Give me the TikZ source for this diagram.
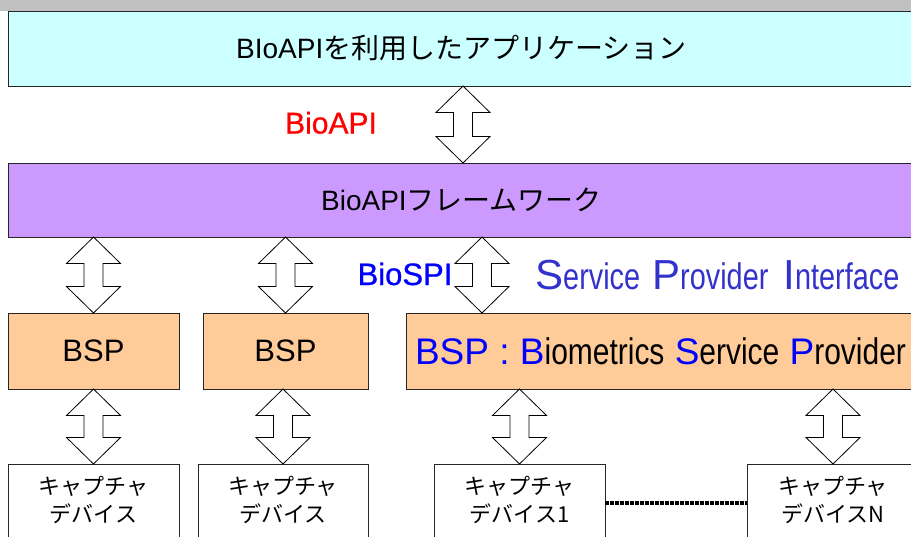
\documentclass[tikz,border=0pt]{standalone}
\usepackage{fontspec}
\usepackage{graphicx}
\setmainfont{Liberation Sans}
\newfontfamily\jp{Noto Sans CJK JP}
\newfontfamily\heavy{Liberation Sans}[FakeBold=0.8]
\usetikzlibrary{calc}

\definecolor{appcyan}{HTML}{CCFFFF}
\definecolor{fwpurple}{HTML}{CC99FF}
\definecolor{bsporange}{HTML}{FFCC99}
\definecolor{spiblue}{HTML}{3333CC}
\definecolor{bandgray}{HTML}{C0C0C0}

% font size in points, also used as line height
\newcommand{\fs}[1]{\fontsize{#1}{#1}\selectfont}
% narrowed lower-case runs
\newcommand{\narrow}[2]{\scalebox{#1}[1]{#2}}

% vertical two-headed block arrow between two points (top, bottom)
\newcommand{\dblarrow}[2]{%
  \draw[blockarrow] let \p1=#1, \p2=#2 in
    (\x1,\y1) -- (\x1+27pt,\y1-26.5pt) -- (\x1+9.5pt,\y1-26.5pt)
    -- (\x1+9.5pt,\y2+26.5pt) -- (\x1+27pt,\y2+26.5pt) -- (\x1,\y2)
    -- (\x1-27pt,\y2+26.5pt) -- (\x1-9.5pt,\y2+26.5pt)
    -- (\x1-9.5pt,\y1-26.5pt) -- (\x1-27pt,\y1-26.5pt) -- cycle;}

\begin{document}
\begin{tikzpicture}[x=1pt,y=-1pt,
  layer/.style={draw=black!85, line width=1pt, inner sep=0pt, outer sep=0pt,
                anchor=north west},
  device/.style={layer, fill=white, minimum height=96pt},
  blockarrow/.style={draw=black, line width=0.8pt, fill=white, line join=miter},
  devlabel/.style={anchor=north, inner sep=0pt, align=center,
                   font=\jp\fontsize{22}{28}\selectfont},
  dotline/.style={line width=3.5pt, dash pattern=on 3.5pt off 1.5pt}]

\useasboundingbox (0,0) rectangle (911,536);
\clip (0,0) rectangle (911,536);

% strip along the top edge
\fill[bandgray] (0,0) rectangle (911,10.5);

% application layer
\node[layer, fill=appcyan, minimum width=907pt, minimum height=75pt]
  (app) at (8,11) {\fs{28}BIoAPI{\jp を利用したアプリケーション}};

% framework layer
\node[layer, fill=fwpurple, minimum width=907pt, minimum height=74pt]
  (fw) at (8,163) {\fs{28}BioAPI{\jp フレームワーク}};

% service providers
\node[layer, fill=bsporange, minimum width=171pt, minimum height=76pt]
  (bsp1) at (8,313) {\fs{31}BSP};
\node[layer, fill=bsporange, minimum width=165pt, minimum height=76pt]
  (bsp2) at (203,313) {\fs{31}BSP};
\node[layer, fill=bsporange, minimum width=509pt, minimum height=76pt]
  (bsp3) at (406,313) {\fs{37}{\color{blue}BSP : B}\narrow{0.81}{iometrics}
    {\color{blue}S}\narrow{0.81}{ervice} {\color{blue}P}\narrow{0.81}{rovider}};

% capture devices
\node[device, minimum width=171pt] (dev1) at (8,464) {};
\node[device, minimum width=170pt] (dev2) at (198,464) {};
\node[device, minimum width=171pt] (dev3) at (434,464) {};
\node[device, minimum width=172pt] (dev4) at (747,464) {};

\node[devlabel] (dl1) at ([yshift=-12pt]dev1.north) {キャプチャ\\デバイス};
\node[devlabel] (dl2) at ([yshift=-12pt]dev2.north) {キャプチャ\\デバイス};
\node[devlabel] (dl3) at ([yshift=-12pt]dev3.north) {キャプチャ\\デバイス1};
\node[devlabel] (dl4) at ([yshift=-12pt]dev4.north) {キャプチャ\\デバイスN};

% interface labels
\node[anchor=base, inner sep=0pt, text=red] (apilbl) at (331,133.5)
  {\heavy\fs{30}BioAPI};
\node[anchor=base, inner sep=0pt, text=blue] (spilbl) at (405,285)
  {\heavy\fs{31}BioSPI};
\node[anchor=base west, inner sep=0pt, text=spiblue] (spitext) at (535,289)
  {{\fs{42}S}{\fs{37}\narrow{0.78}{ervice}}\hspace{12pt}%
   {\fs{42}P}{\fs{37}\narrow{0.78}{rovider}}\hspace{15pt}%
   {\fs{42}I}{\fs{37}\narrow{0.78}{nterface}}};

% arrow columns that are not centred on a box
\coordinate (apicol) at (463,0);
\coordinate (spicol) at (482,0);
\coordinate (dotrow) at (0,503);

% application <-> framework
\dblarrow{(apicol |- app.south)}{(apicol |- fw.north)}

% framework <-> providers
\dblarrow{(bsp1.north |- fw.south)}{(bsp1.north)}
\dblarrow{(bsp2.north |- fw.south)}{(bsp2.north)}
\dblarrow{(spicol |- fw.south)}{(spicol |- bsp3.north)}

% providers <-> devices
\dblarrow{(dev1.north |- bsp1.south)}{(dev1.north)}
\dblarrow{(dev2.north |- bsp2.south)}{(dev2.north)}
\dblarrow{(dev3.north |- bsp3.south)}{(dev3.north)}
\dblarrow{(dev4.north |- bsp3.south)}{(dev4.north)}

% further devices in between
\draw[dotline] (dev3.east |- dotrow) -- (dev4.west |- dotrow);

\end{tikzpicture}
\end{document}
